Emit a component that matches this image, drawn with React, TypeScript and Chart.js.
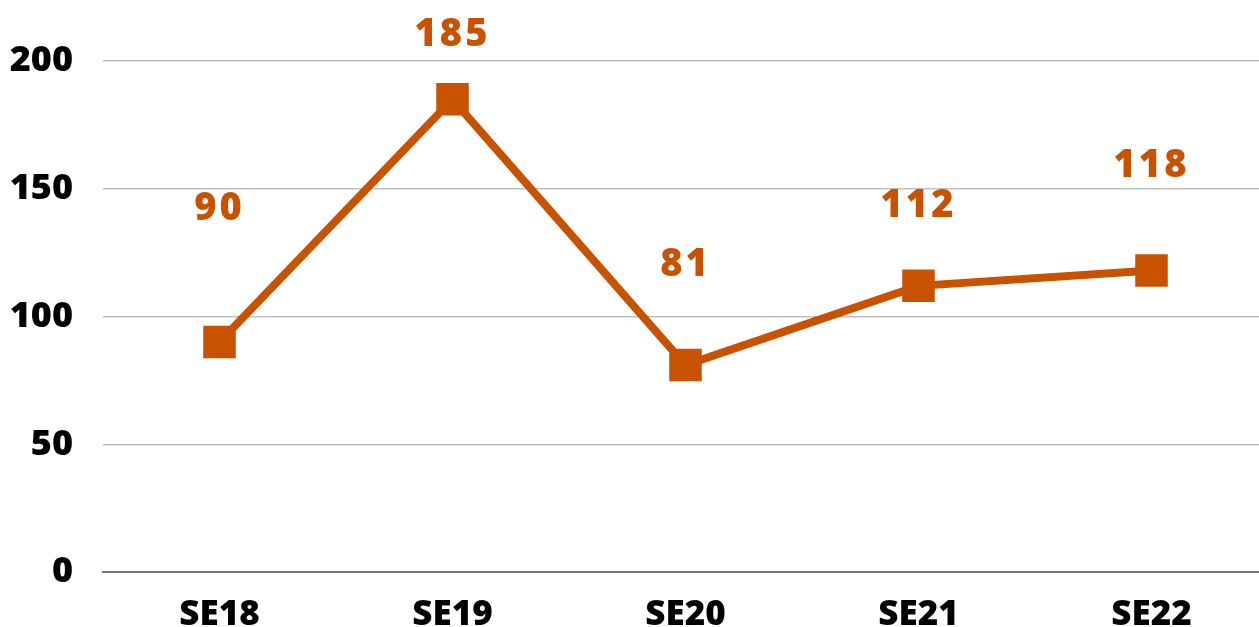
import React, { useEffect, useRef } from "react";
import { Chart, registerables } from "chart.js";

Chart.register(...registerables);

const categories = ["SE18", "SE19", "SE20", "SE21", "SE22"];
const values = [90, 185, 81, 112, 118];
const valueLabels = ["90", "185", "81", "112", "118"];
// vertical anchor of each value label, expressed in y-axis units
const labelAnchor = [142, 210, 120, 143, 159];
const yTicks = [0, 50, 100, 150, 200];

const ORANGE = "#C85200";
const W = 1291;
const H = 627;

export default function App() {
  const ref = useRef<HTMLCanvasElement | null>(null);

  useEffect(() => {
    document.body.style.margin = "0";
    document.body.style.overflow = "hidden";
    const canvas = ref.current;
    if (!canvas) return;

    const labelPlugin = {
      id: "valueLabels",
      afterDatasetsDraw(chart: any) {
        const { ctx, scales } = chart;
        ctx.save();
        ctx.fillStyle = ORANGE;
        ctx.font = "800 38px 'Open Sans'";
        (ctx as any).letterSpacing = "3px";
        ctx.textAlign = "center";
        ctx.textBaseline = "middle";
        values.forEach((_, i) => {
          const x = scales.x.getPixelForValue(i);
          const y = scales.y.getPixelForValue(labelAnchor[i]);
          ctx.fillText(valueLabels[i], x, y);
        });
        ctx.restore();
      },
    };

    const chart = new Chart(canvas, {
      type: "line",
      data: {
        labels: categories,
        datasets: [
          {
            data: values,
            borderColor: ORANGE,
            backgroundColor: ORANGE,
            borderWidth: 8,
            pointStyle: "rect",
            pointRadius: 23,
            pointHoverRadius: 23,
            pointBorderWidth: 0,
            pointBackgroundColor: ORANGE,
            tension: 0,
          },
        ],
      },
      options: {
        animation: false,
        responsive: false,
        maintainAspectRatio: false,
        layout: { padding: { top: 61, right: 0, left: 0, bottom: 0 } },
        plugins: {
          legend: { display: false },
          tooltip: { enabled: false },
        },
        scales: {
          x: {
            offset: true,
            grid: { display: false, drawTicks: false },
            border: { display: true, color: "#767676", width: 2 },
            ticks: {
              color: "#000",
              font: { family: "'Open Sans'", size: 35, weight: 800 },
              padding: 22,
            },
            afterFit(scale: any) {
              scale.height = 55;
            },
          },
          y: {
            min: 0,
            max: 200,
            afterBuildTicks(scale: any) {
              scale.ticks = yTicks.map((v) => ({ value: v }));
            },
            grid: { color: "#C0C0C0", lineWidth: 1.5, drawTicks: false },
            border: { display: false },
            ticks: {
              color: "#000",
              font: { family: "'Open Sans'", size: 36, weight: 800 },
              padding: 30,
            },
            afterFit(scale: any) {
              scale.width = 103;
            },
          },
        },
      },
      plugins: [labelPlugin],
    });

    return () => chart.destroy();
  }, []);

  return (
    <div style={{ width: W, height: H }}>
      <canvas ref={ref} width={W} height={H} style={{ display: "block" }} />
    </div>
  );
}
